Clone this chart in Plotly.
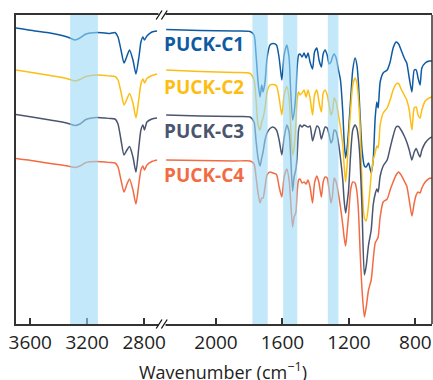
import plotly.graph_objects as go

# ---------------- data ----------------
# high-wavenumber segment (cm-1)
WN_HIGH = [3700, 3567, 3461, 3377, 3321, 3286, 3251, 3209, 3132, 3075, 3040, 3005, 2984,
           2963, 2942, 2921, 2903, 2879, 2858, 2837, 2823, 2809, 2798, 2781, 2746, 2710]
C1_HIGH = [296, 293, 291, 288.5, 286, 284, 286, 290, 291.5, 291, 290.5, 291.5, 287,
           274, 261, 268, 274, 264, 250, 267, 282, 287, 284, 288, 292, 293]
C2_HIGH = [254, 251, 248.5, 246.5, 244.5, 243, 244.5, 247.5, 249, 248.5, 248, 247.5, 244,
           232, 219, 225, 230.5, 221, 206, 226, 240, 245, 241, 245.5, 248.5, 250]
C3_HIGH = [209.5, 206.5, 204, 202, 200, 198.5, 200, 204.5, 206.5, 206, 205.5, 205, 200,
           184, 169, 174, 177.5, 167, 152, 178, 194, 199, 194, 202, 205, 206]
C4_HIGH = [165.5, 163, 160.5, 159, 157.5, 156.5, 158, 161.5, 162.5, 162, 161.5, 161, 157,
           144, 132, 140, 145, 134, 120, 141, 154, 158, 154, 159, 162.5, 164]

# low-wavenumber segment (cm-1)
WN_LOW = [2300, 2096, 1886, 1795, 1771, 1759, 1747, 1735, 1725, 1717, 1705, 1693, 1675, 1657,
          1636, 1620, 1604, 1590, 1574, 1560, 1551, 1539, 1530, 1520, 1512, 1503, 1494, 1482,
          1470, 1458, 1446, 1434, 1419, 1407, 1393, 1380, 1366, 1355, 1343, 1331, 1319, 1308,
          1299, 1289, 1277, 1263, 1251, 1237, 1229, 1220, 1211, 1202, 1190, 1177, 1163, 1151,
          1142, 1133, 1121, 1107, 1096, 1082, 1066, 1054, 1042, 1032, 1024, 1012, 994, 970,
          952, 934, 916, 901, 886, 867, 852, 837, 821, 807, 795, 784, 772, 761, 741, 717, 700]
C1_LOW = [294.5, 293.5, 293, 292.5, 289, 269, 242, 227, 239, 232, 242, 266, 279, 280.5,
          279, 266, 244, 269, 279, 266, 234, 204, 211, 229, 256, 269, 270, 267,
          271, 266, 271, 262, 255, 272, 276, 264, 257, 270, 274, 269, 260, 262,
          267, 270, 266, 254, 244, 212, 184, 166, 176, 194, 224, 254, 266, 258,
          239, 209, 174, 158, 157, 161, 151, 164, 206, 222, 216, 242, 251, 254,
          262, 276, 282, 280, 274, 266, 261, 246, 232, 254, 254, 246, 239, 256, 261, 263, 263]
C2_LOW = [254, 252.5, 251.5, 250.5, 244, 224, 199, 194, 202, 206, 216, 232, 239, 239.5,
          238, 226, 209, 229, 237.5, 226, 199, 169, 176, 199, 224, 232, 229, 231,
          234, 227, 234, 226, 209, 229, 234, 222, 212, 231, 234, 229, 219, 209,
          213, 226, 222, 209, 197, 179, 159, 142, 159, 184, 214, 239, 246, 240,
          224, 199, 139, 106, 103, 119, 149, 164, 171, 178, 176, 199, 211, 216,
          224, 234, 240, 240.5, 235, 229, 224, 214, 194, 216, 217, 209, 206, 214, 223, 226, 227]
C3_LOW = [209, 208, 207.5, 207, 202, 183, 166, 158, 166, 172, 184, 191, 195.5, 197,
          194, 184, 169, 186, 199, 192, 169, 133, 147, 154, 167, 194, 199, 197,
          199, 198, 197, 198, 183, 190, 198, 196, 185, 191, 197, 196, 189, 181,
          184, 194, 192.5, 181, 166, 144, 124, 111, 121, 134, 169, 194, 199, 195,
          184, 164, 114, 49, 58, 79, 94, 119, 130, 135, 132, 148, 158, 164,
          176, 188, 197, 197.5, 194, 188, 182, 174, 164, 172, 175.5, 171, 167, 174, 181, 185.5, 187]
C4_LOW = [164, 163.5, 163, 163, 160, 147, 131, 121, 126, 126, 137, 149, 152, 151,
          149.5, 137, 127, 147, 155, 144, 124, 97, 107, 111, 131, 144, 145, 141,
          142, 140, 144, 137, 121, 141, 148, 141, 127, 142, 147, 146, 134, 121,
          128, 146, 142, 130, 117, 99, 87, 78, 92, 109, 134, 142, 141, 131,
          111, 74, 34, 7, 17, 34, 44, 64, 81, 84, 87, 107, 122, 125,
          134, 142, 149, 152, 149, 143, 138, 124, 108, 121, 129, 132, 131, 136, 142, 145.5, 146]

SERIES = ["PUCK-C1", "PUCK-C2", "PUCK-C3", "PUCK-C4"]
HIGH = [C1_HIGH, C2_HIGH, C3_HIGH, C4_HIGH]
LOW = [C1_LOW, C2_LOW, C3_LOW, C4_LOW]
LABEL_Y = [280, 237.3, 193.5, 149]

BANDS_HIGH = [(3320, 3125)]
BANDS_LOW = [(1781, 1689), (1596, 1511), (1327, 1263)]

TICKS_HIGH = [3600, 3200, 2800]
TICKS_LOW = [2000, 1600, 1200, 800]

# ---------------- style ----------------
COLORS = ["#0E5BA3", "#FDBE14", "#4A5570", "#F26B43"]
AX = "#333333"
FONT = "Open Sans"
SPLIT = 0.351

fig = go.Figure()
for name, col, hi, lo in zip(SERIES, COLORS, HIGH, LOW):
    fig.add_trace(go.Scatter(x=WN_HIGH, y=hi, mode="lines", xaxis="x", yaxis="y",
                             line=dict(color=col, width=1.5, shape="spline", smoothing=0.6),
                             showlegend=False, name=name))
    fig.add_trace(go.Scatter(x=WN_LOW, y=lo, mode="lines", xaxis="x2", yaxis="y",
                             line=dict(color=col, width=1.5, shape="spline", smoothing=0.6),
                             showlegend=False, name=name))

shapes = []
for a, b in BANDS_HIGH:
    shapes.append(dict(type="rect", xref="x", yref="paper", x0=a, x1=b, y0=0, y1=1,
                       fillcolor="#99D9F7", opacity=0.6, line=dict(width=0), layer="above"))
for a, b in BANDS_LOW:
    shapes.append(dict(type="rect", xref="x2", yref="paper", x0=a, x1=b, y0=0, y1=1,
                       fillcolor="#99D9F7", opacity=0.6, line=dict(width=0), layer="above"))

# right border
shapes.append(dict(type="line", xref="paper", yref="paper", x0=1, x1=1, y0=0, y1=1,
                   line=dict(color=AX, width=1.5)))

# axis-break marks (bottom and top)
for yc in (0.0, 1.0):
    shapes.append(dict(type="rect", xref="paper", yref="paper", x0=0.3425, x1=0.3595,
                       y0=yc - 0.008, y1=yc + 0.008, fillcolor="white",
                       line=dict(width=0), layer="above"))
    for dx in (0.0, 0.0125):
        shapes.append(dict(type="line", xref="paper", yref="paper",
                           x0=0.337 + dx, x1=0.351 + dx, y0=yc - 0.0145, y1=yc + 0.0145,
                           line=dict(color="#111111", width=1.3), layer="above"))

annotations = []
for name, col, ly in zip(SERIES, COLORS, LABEL_Y):
    annotations.append(dict(text="<b>%s</b>" % name, xref="paper", yref="y", x=SPLIT, y=ly,
                            xanchor="left", yanchor="middle", showarrow=False,
                            font=dict(family=FONT, size=19, color=col)))
annotations.append(dict(text="Wavenumber (cm<sup>−1</sup>)", xref="paper", yref="paper",
                        x=0.497, y=-0.152, xanchor="center", yanchor="middle", showarrow=False,
                        font=dict(family=FONT, size=18, color="#222222")))

xcommon = dict(showline=True, linecolor=AX, linewidth=1.5, mirror=True, ticks="inside",
               ticklen=6, tickwidth=1.5, tickcolor=AX, showgrid=False, zeroline=False,
               automargin=False,
               tickfont=dict(family=FONT, size=19, color="#222222"), anchor="y")

fig.update_layout(
    width=433, height=380,
    margin=dict(l=16, r=1, t=15, b=56, autoexpand=False),
    paper_bgcolor="white", plot_bgcolor="white",
    xaxis=dict(domain=[0, SPLIT], range=[3700, 2675], tickvals=TICKS_HIGH, **xcommon),
    xaxis2=dict(domain=[SPLIT, 1], range=[2325, 700], tickvals=TICKS_LOW, **xcommon),
    yaxis=dict(domain=[0, 1], range=[0, 309], showline=True, linecolor=AX, linewidth=1.5,
               automargin=False,
               showticklabels=False, ticks="", showgrid=False, zeroline=False, anchor="x"),
    shapes=shapes,
    annotations=annotations,
    showlegend=False,
)

fig.write_html("out.html", config={"displayModeBar": False},
               post_script="document.body.style.margin='0px';document.body.style.padding='0px';")
